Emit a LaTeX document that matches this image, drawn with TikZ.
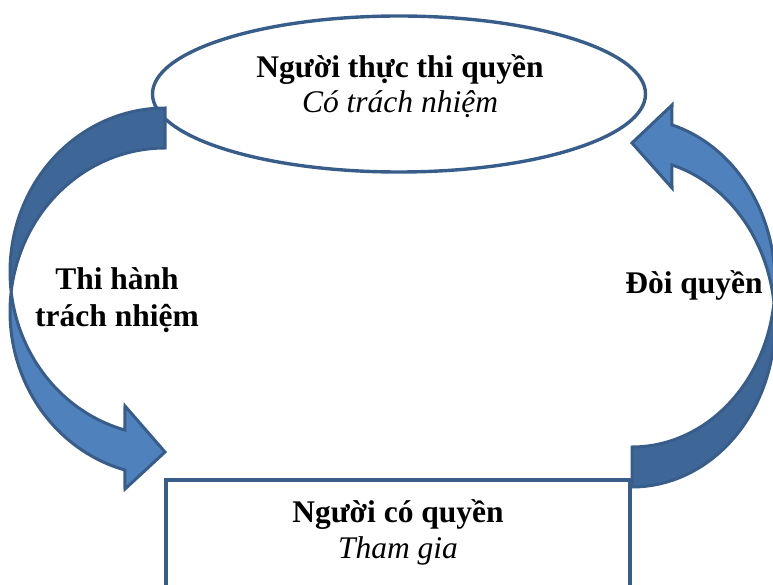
\documentclass[tikz,border=0pt]{standalone}
\usepackage{fontspec}
\setmainfont{Liberation Serif}
\usetikzlibrary{shapes.geometric}
\definecolor{outl}{HTML}{385D8A}
\definecolor{backblue}{HTML}{3E6798}
\definecolor{frontblue}{HTML}{4F81BD}
\begin{document}
\begin{tikzpicture}[x=1pt,y=-1pt,
  shapeline/.style={draw=outl,line width=3.4pt},
  arrowback/.style={fill=backblue,draw=outl,line width=3pt,line join=miter},
  arrowfront/.style={fill=frontblue,draw=outl,line width=3pt,line join=miter},
  lbl/.style={anchor=base,inner sep=0pt,font=\fontsize{31.5}{36}\selectfont}]
\useasboundingbox (0,0) rectangle (773,585);
% shapes
\node[shapeline,ellipse,minimum width=493pt,minimum height=156pt,inner sep=0pt] (top) at (399,94) {};
\coordinate (rtl) at (166,480);
\coordinate (rbr) at (630,640);
\draw[shapeline] (rtl) rectangle (rbr);
% left curved arrow (A: cy 271.8, B: cy 311.8)
\draw[arrowback] plot[domain=270:173,samples=60,variable=\t] ({165+155*cos(\t)},{271.8+163.8*sin(\t)})
  -- plot[domain=187:270,samples=60,variable=\t] ({165+155*cos(\t)},{311.8+163.8*sin(\t)}) -- cycle;
\draw[arrowfront] plot[domain=187:105,samples=60,variable=\t] ({165+155*cos(\t)},{311.8+163.8*sin(\t)})
  -- (125,489) -- (165,452) -- (125,406)
  -- plot[domain=105:173,samples=60,variable=\t] ({165+155*cos(\t)},{271.8+163.8*sin(\t)}) -- cycle;
% right curved arrow (C: cy 322.7, D: cy 282.7)
\draw[arrowback] plot[domain=90:-7,samples=60,variable=\t] ({632+143*cos(\t)},{322.7+164.3*sin(\t)})
  -- plot[domain=7:90,samples=60,variable=\t] ({632+143*cos(\t)},{282.7+164.3*sin(\t)}) -- cycle;
\draw[arrowfront] plot[domain=7:-73.8,samples=60,variable=\t] ({632+143*cos(\t)},{282.7+164.3*sin(\t)})
  -- (672,105) -- (632,143) -- (672,188)
  -- plot[domain=-73.8:-7,samples=60,variable=\t] ({632+143*cos(\t)},{322.7+164.3*sin(\t)}) -- cycle;
% texts
\node[lbl] (t1) at (400,78) {\textbf{Người thực thi quyền}};
\node[lbl] (t2) at (400,113) {\textit{Có trách nhiệm}};
\node[lbl] (b1) at (398,522) {\textbf{Người có quyền}};
\node[lbl] (b2) at (398,558) {\textit{Tham gia}};
\node[lbl] (l1) at (117,289) {\textbf{Thi hành}};
\node[lbl] (l2) at (117,326) {\textbf{trách nhiệm}};
\node[lbl] (r1) at (694,293) {\textbf{Đòi quyền}};
\end{tikzpicture}
\end{document}
